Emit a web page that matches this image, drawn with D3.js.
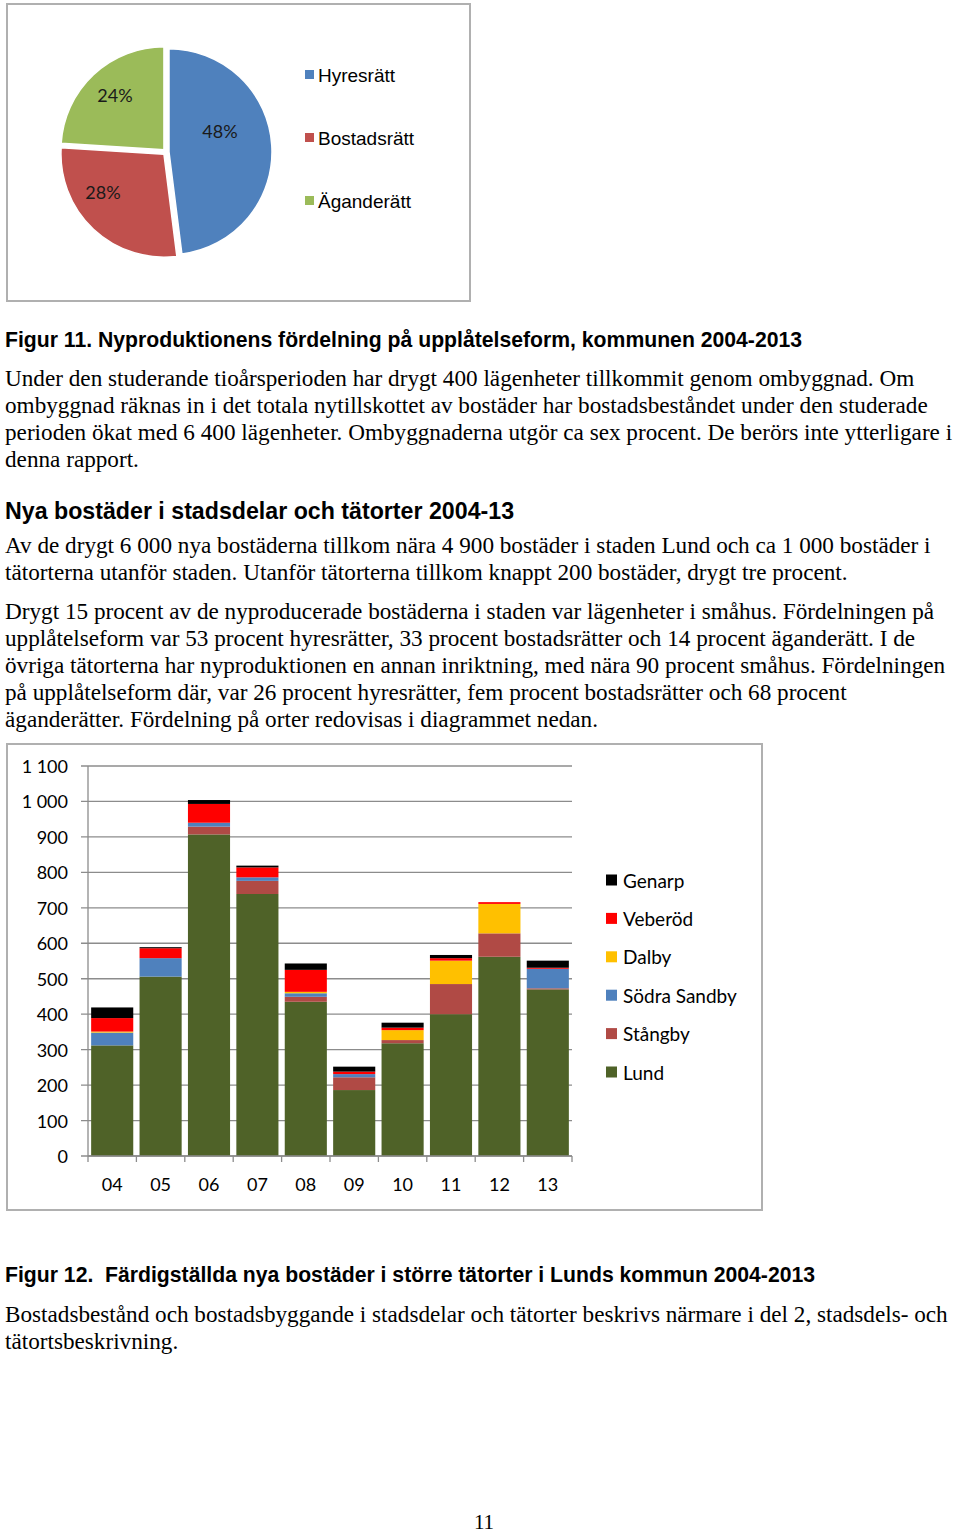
<!DOCTYPE html>
<html><head><meta charset="utf-8">
<script src="https://cdn.jsdelivr.net/npm/d3@7"></script>
<style>
body{margin:0;background:#fff;}
svg{display:block;}
text{white-space:pre;}
</style></head>
<body>
<svg id="page" width="960" height="1534"></svg>
<script>
// ---- Pie data (Figur 11)
const pieLabels = ["Hyresrätt", "Bostadsrätt", "Äganderätt"];
const pieValues = [48, 28, 24];
const pieColors = ["#4F81BD", "#C0504D", "#9BBB59"];

// ---- Stacked bar data (Figur 12)
const years = ["04","05","06","07","08","09","10","11","12","13"];
const seriesNames = ["Lund","Stångby","Södra Sandby","Dalby","Veberöd","Genarp"];
const lund        = [312, 506, 907, 739, 435, 186, 318, 400, 562, 470];
const stangby     = [0,   0,   22,  37,  14,  36,  9,   85,  66,  3];
const sodraSandby = [36,  52,  11,  10,  10,  9,   0,   0,   0,   55];
const dalby       = [3,   0,   0,   0,   4,   0,   28,  66,  83,  0];
const veberod     = [38,  28,  53,  28,  62,  7,   7,   7,   5,   3];
const genarp      = [30,  3,   11,  5,   18,  14,  14,  9,   0,   20];
const seriesColors = ["#4F6228","#B04A45","#4F81BD","#FFC000","#FF0000","#000000"];
const yTicks = [0,100,200,300,400,500,600,700,800,900,1000,1100];
const yTickLabels = ["0","100","200","300","400","500","600","700","800","900","1 000","1 100"];

const svg = d3.select("#page");
const serif = "'Liberation Serif','Times New Roman',serif";
const sans = "'Liberation Sans',Arial,sans-serif";
const chartFont = "Lato,'Open Sans',sans-serif";

// ---------- Pie chart box
svg.append("rect").attr("x",7).attr("y",4).attr("width",463).attr("height",297)
  .attr("fill","#fff").attr("stroke","#b0b0b0").attr("stroke-width",2);

const pieG = svg.append("g").attr("transform","translate(166,152)");
const pie = d3.pie().sort(null).value(d=>d)(pieValues);
const r = 103;
const arc = d3.arc().innerRadius(0).outerRadius(r);
const labelPos = [[54,-21],[-63,40],[-51,-57]];
pieG.selectAll("path").data(pie).join("path")
  .attr("d",arc)
  .attr("fill",(d,i)=>pieColors[i])
  .attr("stroke","#fff").attr("stroke-width",1.5)
  .attr("transform",d=>{const a=(d.startAngle+d.endAngle)/2; const o=3; return `translate(${o*Math.sin(a)},${-o*Math.cos(a)})`;});
pieG.selectAll("text").data(pie).join("text")
  .attr("x",(d,i)=>labelPos[i][0]).attr("y",(d,i)=>labelPos[i][1])
  .attr("text-anchor","middle").attr("dominant-baseline","central")
  .attr("font-family",chartFont).attr("font-size",18).attr("fill","#1a1a1a")
  .text(d=>d.value+"%");

const pieLeg = svg.append("g");
pieLabels.forEach((l,i)=>{
  const cy = 75 + i*63;
  pieLeg.append("rect").attr("x",305).attr("y",cy-5).attr("width",9).attr("height",9).attr("fill",pieColors[i]);
  pieLeg.append("text").attr("x",318).attr("y",cy+7).attr("font-family",sans).attr("font-size",19).attr("fill","#000").text(l);
});

// ---------- Text blocks
function lines(arr, x, y0, lh, font, size, weight){
  arr.forEach((t,i)=>{
    svg.append("text").attr("x",x).attr("y",y0+i*lh).attr("font-family",font)
      .attr("font-size",size).attr("font-weight",weight||"normal").attr("fill","#000").text(t);
  });
}
lines(["Figur 11. Nyproduktionens fördelning på upplåtelseform, kommunen 2004-2013"],5,347,0,sans,21.2,"bold");
lines(["Under den studerande tioårsperioden har drygt 400 lägenheter tillkommit genom ombyggnad. Om",
"ombyggnad räknas in i det totala nytillskottet av bostäder har bostadsbeståndet under den studerade",
"perioden ökat med 6 400 lägenheter. Ombyggnaderna utgör ca sex procent. De berörs inte ytterligare i",
"denna rapport."],5,386,27,serif,23.2);
lines(["Nya bostäder i stadsdelar och tätorter 2004-13"],5,519,0,sans,23.2,"bold");
lines(["Av de drygt 6 000 nya bostäderna tillkom nära 4 900 bostäder i staden Lund och ca 1 000 bostäder i",
"tätorterna utanför staden. Utanför tätorterna tillkom knappt 200 bostäder, drygt tre procent."],5,553,27,serif,23.2);
lines(["Drygt 15 procent av de nyproducerade bostäderna i staden var lägenheter i småhus. Fördelningen på",
"upplåtelseform var 53 procent hyresrätter, 33 procent bostadsrätter och 14 procent äganderätt. I de",
"övriga tätorterna har nyproduktionen en annan inriktning, med nära 90 procent småhus. Fördelningen",
"på upplåtelseform där, var 26 procent hyresrätter, fem procent bostadsrätter och 68 procent",
"äganderätter. Fördelning på orter redovisas i diagrammet nedan."],5,619,27,serif,23.2);

// ---------- Bar chart box
svg.append("rect").attr("x",7).attr("y",744).attr("width",755).attr("height",466)
  .attr("fill","#fff").attr("stroke","#b0b0b0").attr("stroke-width",2);

const x0 = 88, x1 = 572, yB = 1156, yT = 766;
const x = d3.scaleBand().domain(years).range([x0,x1]).paddingInner(0.13).paddingOuter(0.065);
const y = d3.scaleLinear().domain([0,1100]).range([yB,yT]);

const cg = svg.append("g");
cg.selectAll("line.grid").data(yTicks).join("line").attr("class","grid")
  .attr("x1",81).attr("x2",x1).attr("y1",d=>y(d)).attr("y2",d=>y(d))
  .attr("stroke","#8c8c8c").attr("stroke-width",1.3);
cg.selectAll("text.yl").data(yTicks).join("text").attr("class","yl")
  .attr("x",68).attr("y",d=>y(d)).attr("dominant-baseline","central").attr("text-anchor","end")
  .attr("font-family",chartFont).attr("font-size",18).attr("fill","#000")
  .text((d,i)=>yTickLabels[i]);

const rows = years.map((yr,i)=>({year:yr, "Lund":lund[i], "Stångby":stangby[i], "Södra Sandby":sodraSandby[i],
  "Dalby":dalby[i], "Veberöd":veberod[i], "Genarp":genarp[i]}));
const stacked = d3.stack().keys(seriesNames)(rows);
cg.selectAll("g.ser").data(stacked).join("g").attr("class","ser")
  .attr("fill",(d,i)=>seriesColors[i])
  .selectAll("rect").data(d=>d).join("rect")
  .attr("x",d=>x(d.data.year)).attr("width",x.bandwidth())
  .attr("y",d=>y(d[1])).attr("height",d=>Math.max(0,y(d[0])-y(d[1])));

cg.append("line").attr("x1",x0).attr("x2",x0).attr("y1",yT).attr("y2",yB).attr("stroke","#8c8c8c").attr("stroke-width",1.3);
cg.append("line").attr("x1",x0).attr("x2",x1).attr("y1",yB).attr("y2",yB).attr("stroke","#8c8c8c").attr("stroke-width",1.3);
const bounds = years.map(yr=>x(yr)-x.step()*x.paddingInner()/2).concat([x1]);
cg.selectAll("line.xt").data(bounds).join("line").attr("class","xt")
  .attr("x1",d=>d).attr("x2",d=>d).attr("y1",yB).attr("y2",yB+6).attr("stroke","#8c8c8c").attr("stroke-width",1.3);
cg.selectAll("text.xl").data(years).join("text").attr("class","xl")
  .attr("x",d=>x(d)+x.bandwidth()/2).attr("y",1184).attr("dominant-baseline","central").attr("text-anchor","middle")
  .attr("font-family",chartFont).attr("font-size",18).attr("fill","#000").text(d=>d);

const legOrder = seriesNames.slice().reverse();
legOrder.forEach((n,i)=>{
  const cy = 880 + i*38.4;
  const ci = seriesNames.indexOf(n);
  cg.append("rect").attr("x",606).attr("y",cy-5.5).attr("width",11).attr("height",11).attr("fill",seriesColors[ci]);
  cg.append("text").attr("x",623).attr("y",cy).attr("dominant-baseline","central")
    .attr("font-family",chartFont).attr("font-size",19).attr("fill","#000").text(n);
});

lines(["Figur 12.  Färdigställda nya bostäder i större tätorter i Lunds kommun 2004-2013"],5,1282,0,sans,21.2,"bold");
lines(["Bostadsbestånd och bostadsbyggande i stadsdelar och tätorter beskrivs närmare i del 2, stadsdels- och",
"tätortsbeskrivning."],5,1322,27,serif,23.2);
svg.append("text").attr("x",484).attr("y",1529).attr("text-anchor","middle").attr("font-family",serif)
  .attr("font-size",21).text("11");
</script>
</body></html>
